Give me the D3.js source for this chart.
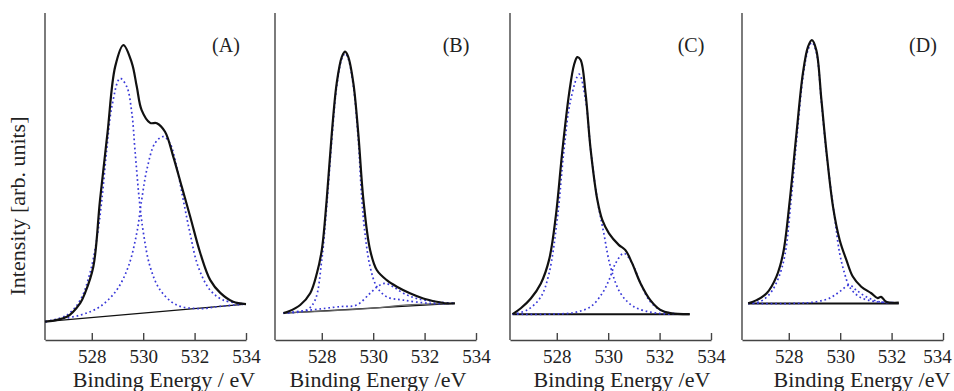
<!DOCTYPE html>
<html>
<head>
<meta charset="utf-8">
<script src="https://cdn.jsdelivr.net/npm/d3@7"></script>
<style>
  body { margin: 0; background: #fff; }
  svg { display: block; font-family: "Liberation Serif", "DejaVu Serif", serif; }
  .env { fill: none; stroke: #111; stroke-width: 2.2; }
  .comp { fill: none; stroke: #3838d8; stroke-width: 1.7; stroke-dasharray: 1.7 2.8; }
  .base { fill: none; }
  .axis path, .axis line { stroke: #444; stroke-width: 1.4; }
  .axis text { fill: #222; }
</style>
</head>
<body>
<svg width="954" height="391"></svg>
<script>
// binding energy (eV), intensity (arb. units, 0-100)
var panelLabels = ["(A)", "(B)", "(C)", "(D)"];
var xTitles = ["Binding Energy / eV", "Binding Energy /eV", "Binding Energy /eV", "Binding Energy /eV"];
var tickValues = [528, 530, 532, 534];

var envA = [[526.18,5.6],[527.03,7.1],[527.55,11.3],[527.74,14.4],[528.06,22.4],[528.32,42.8],[528.61,63.2],[528.91,83.6],[529.23,90.2],[529.56,84.7],[529.75,77.5],[529.94,70.3],[530.27,66.4],[530.53,66.3],[530.85,63.7],[531.17,56.1],[531.50,46.9],[531.83,37.7],[532.22,26.6],[532.61,18.3],[533.00,14.4],[533.50,11.7],[534.0,11.0]];
var comp1A = [[526.2,5.6],[527.03,7.6],[527.55,12.2],[527.93,20.5],[528.19,30.6],[528.39,42.8],[528.58,58.1],[528.78,71.3],[529.10,80.0],[529.36,77.5],[529.56,69.3],[529.68,58.1],[529.85,42.8],[530.01,32.7],[530.27,22.4],[530.66,15.3],[531.30,10.7],[532.21,9.6],[533.0,10.3],[534.0,11.0]];
var comp2A = [[526.2,5.6],[526.50,6.1],[527.55,7.6],[528.32,10.2],[528.97,15.3],[529.42,22.4],[529.75,32.7],[529.94,42.8],[530.14,52.0],[530.46,60.2],[530.78,62.2],[531.04,60.2],[531.30,53.0],[531.56,42.8],[531.82,32.7],[532.14,22.4],[532.60,15.3],[533.12,12.2],[534.0,11.0]];
var baseA = [[526.18,5.6],[534.0,11.0]];

var envB = [[526.51,8.2],[526.70,8.7],[527.16,10.7],[527.55,14.3],[527.81,20.4],[528.0,27.5],[528.19,42.8],[528.39,63.2],[528.58,78.5],[528.78,86.6],[528.91,88.2],[529.03,86.6],[529.23,78.5],[529.42,63.2],[529.62,42.8],[529.88,27.5],[530.14,21.4],[530.53,18.3],[530.92,16.3],[531.43,14.3],[531.95,12.7],[532.47,11.7],[532.86,11.2],[533.18,11.2]];
var comp1B = [[526.51,8.2],[527.42,9.2],[527.74,12.2],[528.0,24.5],[528.19,40.8],[528.39,61.2],[528.58,77.5],[528.78,86.0],[528.91,87.6],[529.03,86.0],[529.23,77.5],[529.42,61.2],[529.55,44.0],[529.68,32.6],[529.88,22.4],[530.14,16.3],[530.53,13.2],[531.17,12.2],[532.21,11.2],[533.18,11.2]];
var comp2B = [[526.51,8.2],[528.71,10.2],[529.36,10.7],[529.88,14.3],[530.20,16.5],[530.46,17.3],[530.78,16.3],[531.17,14.3],[531.69,12.7],[532.47,11.7],[533.18,11.2]];
var baseB = [[526.51,8.2],[533.18,11.2]];
var base2B = [[526.51,8.2],[529.6,9.5],[531.5,10.8],[533.18,11.2]];

var envC = [[526.28,7.9],[526.60,9.7],[526.99,12.7],[527.38,17.3],[527.70,24.5],[527.96,37.7],[528.22,58.1],[528.48,75.4],[528.67,84.1],[528.80,86.5],[528.93,85.6],[529.12,75.4],[529.32,58.1],[529.58,42.8],[529.77,36.7],[530.03,32.6],[530.41,29.1],[530.67,27.5],[530.93,23.5],[531.26,17.3],[531.64,12.2],[532.03,9.2],[532.42,8.2],[533.17,7.9]];
var comp1C = [[526.28,7.9],[526.86,9.2],[527.38,13.2],[527.70,20.4],[528.03,37.7],[528.28,58.1],[528.54,73.4],[528.87,81.3],[529.12,73.4],[529.32,58.1],[529.58,42.8],[529.83,32.6],[530.09,22.4],[530.48,14.3],[531.00,10.2],[531.90,8.2],[533.17,7.9]];
var comp2C = [[526.28,7.9],[527.70,7.9],[528.67,8.4],[529.32,10.2],[529.77,14.3],[530.03,18.3],[530.29,23.5],[530.61,26.5],[530.93,23.5],[531.26,17.3],[531.64,11.7],[532.16,8.7],[533.17,7.9]];
var baseC = [[526.28,7.9],[533.17,7.9]];

var envD = [[526.42,11.2],[526.75,12.2],[527.14,14.3],[527.52,19.4],[527.78,26.5],[528.04,42.8],[528.30,63.2],[528.55,81.6],[528.75,89.7],[528.90,91.7],[529.07,88.7],[529.27,73.4],[529.46,58.1],[529.72,40.8],[529.98,30.6],[530.24,24.5],[530.49,19.4],[530.82,16.3],[531.21,14.3],[531.46,12.8],[531.59,13.2],[531.79,11.7],[532.28,11.4]];
var comp1D = [[526.42,11.2],[526.9,11.8],[527.3,14.5],[527.6,19.0],[527.85,26.0],[528.08,42.0],[528.32,62.5],[528.56,80.8],[528.76,89.0],[528.90,91.0],[529.07,88.0],[529.27,72.8],[529.46,57.5],[529.78,37.7],[529.98,26.5],[530.17,20.4],[530.36,16.3],[530.75,13.2],[531.40,11.7],[532.28,11.4]];
var comp2D = [[526.42,11.2],[528.3,11.2],[529.07,11.7],[529.59,12.8],[529.98,14.8],[530.36,16.8],[530.62,15.3],[531.01,13.2],[531.53,11.7],[532.28,11.4]];
var baseD = [[526.42,11.2],[532.28,11.2]];

var panels = [
  { env: envA, comps: [comp1A, comp2A], bases: [baseA] },
  { env: envB, comps: [comp1B, comp2B], bases: [baseB, base2B] },
  { env: envC, comps: [comp1C, comp2C], bases: [baseC] },
  { env: envD, comps: [comp1D, comp2D], bases: [baseD] }
];

var svg = d3.select("svg");
var lefts = [45, 275, 510, 742];
var plotW = 201, plotTop = 13, plotBottom = 340;
var titleX = [164, 378, 622, 862];

var y = d3.scaleLinear().domain([0, 100]).range([plotBottom, plotTop]);

panels.forEach(function(p, i) {
  var g = svg.append("g").attr("transform", "translate(" + lefts[i] + ",0)");
  var x = d3.scaleLinear().domain([526.18, 534]).range([0, plotW]);

  var line = d3.line()
    .x(function(d) { return x(d[0]); })
    .y(function(d) { return y(d[1]); })
    .curve(d3.curveCatmullRom.alpha(0.5));

  // axes
  var ax = g.append("g").attr("class", "axis")
    .attr("transform", "translate(0," + plotBottom + ")")
    .call(d3.axisBottom(x).tickValues(tickValues).tickSizeInner(-7).tickSizeOuter(0).tickPadding(17));
  ax.attr("font-family", "Liberation Serif, serif").attr("font-size", 19);
  ax.selectAll("text").attr("dy", "0.3em");
  if (i === 3) ax.selectAll(".tick:last-of-type text").attr("dx", -6);

  g.append("line")
    .attr("x1", 0).attr("x2", 0).attr("y1", plotTop).attr("y2", plotBottom)
    .attr("stroke", "#444").attr("stroke-width", 1.4);

  p.bases.forEach(function(b, j) {
    g.append("path").datum(b).attr("class", "base")
      .attr("stroke", j ? "#666" : "#111")
      .attr("stroke-width", (i >= 2) ? 2 : 1.2)
      .attr("d", line);
  });
  p.comps.forEach(function(c) {
    g.append("path").datum(c).attr("class", "comp").attr("d", line);
  });
  g.append("path").datum(p.env).attr("class", "env").attr("d", line);

  svg.append("text").attr("x", lefts[i] + 181).attr("y", 52)
    .attr("text-anchor", "middle").attr("font-size", 20).attr("fill", "#222")
    .text(panelLabels[i]);
  svg.append("text").attr("x", titleX[i]).attr("y", 387)
    .attr("text-anchor", "middle").attr("font-size", 22).attr("fill", "#222")
    .text(xTitles[i]);
});

svg.append("text")
  .attr("transform", "translate(25,206) rotate(-90)")
  .attr("text-anchor", "middle").attr("font-size", 22).attr("fill", "#222")
  .text("Intensity [arb. units]");
</script>
</body>
</html>
